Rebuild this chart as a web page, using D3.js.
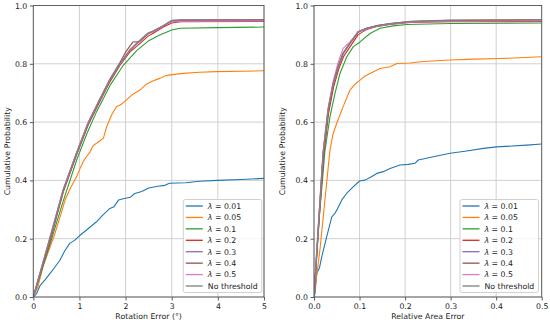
<!DOCTYPE html>
<html><head><meta charset="utf-8">
<script src="https://cdn.jsdelivr.net/npm/d3@7"></script>
<style>body{margin:0;background:#fff;} svg{display:block;} text{font-family:"DejaVu Sans",sans-serif;}</style>
</head><body><svg id="c" width="550" height="324"></svg>
<script>
// ---------- data ----------
const seriesLabels = ["0.01","0.05","0.1","0.2","0.3","0.4","0.5","No threshold"];
const seriesColors = ["#1f77b4","#ff7f0e","#2ca02c","#d62728","#9467bd","#8c564b","#e377c2","#7f7f7f"];
const rotTicks = [0,1,2,3,4,5];
const areaTicks = [0,0.1,0.2,0.3,0.4,0.5];
const probTicks = [0,0.2,0.4,0.6,0.8,1.0];

// Rotation error CDFs (degrees, probability)
const rot001 = [[0,0],[0.07,0.011],[0.15,0.04],[0.25,0.058],[0.36,0.08],[0.47,0.103],[0.58,0.127],[0.68,0.158],[0.79,0.184],[0.9,0.195],[1.0,0.21],[1.2,0.236],[1.37,0.258],[1.5,0.28],[1.66,0.304],[1.75,0.31],[1.85,0.333],[1.95,0.337],[2.1,0.342],[2.2,0.355],[2.35,0.362],[2.5,0.374],[2.7,0.38],[2.85,0.383],[2.95,0.39],[3.3,0.392],[3.6,0.397],[4,0.40],[4.5,0.403],[5,0.407]];
const rot005 = [[0,0],[0.1,0.035],[0.22,0.11],[0.36,0.17],[0.47,0.218],[0.58,0.275],[0.69,0.333],[0.8,0.372],[0.94,0.413],[1.01,0.44],[1.1,0.47],[1.23,0.498],[1.3,0.52],[1.44,0.535],[1.52,0.545],[1.59,0.584],[1.7,0.625],[1.8,0.653],[1.9,0.66],[2.02,0.676],[2.15,0.695],[2.31,0.71],[2.45,0.73],[2.6,0.742],[2.74,0.75],[2.85,0.758],[2.96,0.762],[3.25,0.767],[3.6,0.771],[3.97,0.773],[5,0.776]];
const rot01 = [[0,0],[0.36,0.18],[0.65,0.33],[0.94,0.47],[1.16,0.56],[1.37,0.635],[1.66,0.725],[1.95,0.795],[2.24,0.845],[2.49,0.878],[2.74,0.899],[3.0,0.916],[3.18,0.922],[4,0.924],[5,0.926]];
const rot02 = [[0,0],[0.36,0.19],[0.65,0.36],[0.94,0.488],[1.19,0.59],[1.44,0.67],[1.66,0.738],[1.88,0.795],[2.09,0.84],[2.24,0.86],[2.49,0.895],[2.6,0.905],[2.81,0.925],[3.0,0.94],[3.2,0.944],[5,0.945]];
const rot03 = [[0,0],[0.36,0.195],[0.65,0.365],[0.94,0.492],[1.19,0.595],[1.44,0.675],[1.66,0.743],[1.88,0.8],[2.09,0.846],[2.24,0.868],[2.49,0.903],[2.6,0.911],[2.81,0.929],[3.0,0.947],[3.2,0.949],[5,0.95]];
const rot04 = [[0,0],[0.36,0.2],[0.65,0.368],[0.94,0.495],[1.19,0.598],[1.44,0.678],[1.66,0.748],[1.88,0.805],[2.0,0.84],[2.16,0.875],[2.3,0.876],[2.49,0.904],[2.6,0.912],[2.81,0.93],[3.0,0.948],[3.2,0.95],[5,0.951]];
const rot05 = [[0,0],[0.36,0.205],[0.65,0.37],[0.94,0.497],[1.19,0.6],[1.44,0.678],[1.66,0.745],[1.88,0.8],[2.09,0.845],[2.24,0.87],[2.49,0.906],[2.6,0.913],[2.81,0.93],[3.0,0.944],[3.2,0.946],[5,0.947]];
const rotNone = [[0,0],[0.36,0.2],[0.65,0.367],[0.94,0.493],[1.19,0.596],[1.44,0.676],[1.66,0.744],[1.88,0.801],[2.09,0.847],[2.24,0.87],[2.49,0.905],[2.6,0.912],[2.81,0.93],[3.0,0.948],[3.2,0.95],[5,0.951]];

// Relative area error CDFs
const area001 = [[0,0],[0.002,0.01],[0.006,0.081],[0.012,0.1],[0.017,0.138],[0.028,0.207],[0.039,0.275],[0.045,0.285],[0.05,0.298],[0.061,0.333],[0.072,0.356],[0.086,0.378],[0.1,0.398],[0.112,0.401],[0.125,0.412],[0.138,0.424],[0.152,0.43],[0.167,0.441],[0.189,0.453],[0.207,0.455],[0.222,0.459],[0.229,0.47],[0.262,0.481],[0.299,0.493],[0.335,0.501],[0.372,0.51],[0.401,0.515],[0.467,0.521],[0.5,0.525]];
const area005 = [[0,0],[0.013,0.161],[0.024,0.333],[0.035,0.504],[0.042,0.561],[0.05,0.596],[0.064,0.653],[0.079,0.71],[0.09,0.73],[0.101,0.744],[0.112,0.758],[0.123,0.767],[0.145,0.784],[0.167,0.79],[0.182,0.801],[0.211,0.803],[0.24,0.808],[0.299,0.813],[0.354,0.816],[0.408,0.818],[0.5,0.824]];
const area01 = [[0,0],[0.012,0.28],[0.024,0.5],[0.035,0.618],[0.046,0.698],[0.057,0.767],[0.072,0.824],[0.086,0.858],[0.101,0.875],[0.123,0.904],[0.145,0.922],[0.174,0.93],[0.204,0.935],[0.3,0.938],[0.5,0.94]];
const area02 = [[0,0],[0.01,0.24],[0.021,0.48],[0.032,0.63],[0.043,0.72],[0.054,0.78],[0.065,0.825],[0.079,0.858],[0.097,0.9],[0.116,0.918],[0.138,0.928],[0.167,0.935],[0.211,0.942],[0.3,0.944],[0.5,0.945]];
const area03 = [[0,0],[0.01,0.25],[0.02,0.49],[0.031,0.64],[0.042,0.73],[0.053,0.792],[0.064,0.838],[0.079,0.872],[0.097,0.91],[0.116,0.922],[0.138,0.931],[0.167,0.938],[0.211,0.945],[0.3,0.948],[0.5,0.95]];
const area04 = [[0,0],[0.01,0.25],[0.02,0.49],[0.031,0.64],[0.042,0.732],[0.053,0.79],[0.064,0.836],[0.079,0.87],[0.097,0.908],[0.116,0.922],[0.138,0.93],[0.167,0.937],[0.211,0.945],[0.3,0.949],[0.5,0.951]];
const area05 = [[0,0],[0.01,0.255],[0.02,0.5],[0.031,0.65],[0.042,0.74],[0.053,0.805],[0.064,0.853],[0.079,0.875],[0.097,0.91],[0.116,0.92],[0.138,0.928],[0.167,0.936],[0.211,0.943],[0.3,0.946],[0.5,0.947]];
const areaNone = [[0,0],[0.01,0.25],[0.02,0.49],[0.031,0.64],[0.042,0.73],[0.053,0.79],[0.064,0.834],[0.079,0.87],[0.097,0.91],[0.116,0.922],[0.138,0.93],[0.167,0.937],[0.211,0.945],[0.3,0.949],[0.5,0.951]];

const rotSeries = [rot001,rot005,rot01,rot02,rot03,rot04,rot05,rotNone];
const areaSeries = [area001,area005,area01,area02,area03,area04,area05,areaNone];

// ---------- drawing ----------
const svg = d3.select("#c");
const FS = 7.8;
const plotTop = 5.5, plotBottom = 297;

function panel(id, x0, x1, xDomain, xTicks, xFmt, xLabel, series, legendX, yLabelX) {
  const g = svg.append("g");
  const x = d3.scaleLinear().domain(xDomain).range([x0, x1]);
  const y = d3.scaleLinear().domain([0,1]).range([plotBottom, plotTop]);
  g.append("g").selectAll("line").data(xTicks).join("line")
    .attr("x1", d=>x(d)).attr("x2", d=>x(d)).attr("y1", plotTop).attr("y2", plotBottom)
    .attr("stroke","#cccccc").attr("stroke-width",0.9);
  g.append("g").selectAll("line").data(probTicks).join("line")
    .attr("x1", x0).attr("x2", x1).attr("y1", d=>y(d)).attr("y2", d=>y(d))
    .attr("stroke","#cccccc").attr("stroke-width",0.9);
  svg.append("clipPath").attr("id","clip"+id).append("rect")
    .attr("x",x0).attr("y",plotTop).attr("width",x1-x0).attr("height",plotBottom-plotTop);
  const line = d3.line().x(d=>x(d[0])).y(d=>y(d[1]));
  const last = series.length - 1;
  g.append("g").attr("clip-path","url(#clip"+id+")").selectAll("path").data(series).join("path")
    .attr("d", d=>line(d)).attr("fill","none")
    .attr("stroke",(d,i)=>seriesColors[i])
    .attr("stroke-width",(d,i)=> i===last ? 1.6 : 1.1)
    .attr("stroke-opacity",(d,i)=> i===last ? 0.85 : 1)
    .attr("stroke-linejoin","round");
  const ax = g.append("g").attr("transform",`translate(0,${plotBottom})`)
    .call(d3.axisBottom(x).tickValues(xTicks).tickFormat(xFmt).tickSize(3.5).tickPadding(2.5));
  const ay = g.append("g").attr("transform",`translate(${x0},0)`)
    .call(d3.axisLeft(y).tickValues(probTicks).tickFormat(d3.format(".1f")).tickSize(3.5).tickPadding(2.5));
  [ax,ay].forEach(a=>{
    a.select(".domain").remove();
    a.selectAll(".tick line").attr("stroke","#333").attr("stroke-width",0.8);
    a.selectAll(".tick text").attr("fill","#222").style("font-size",FS+"px").style("font-family","DejaVu Sans");
  });
  g.append("rect").attr("x",x0).attr("y",plotTop).attr("width",x1-x0).attr("height",plotBottom-plotTop)
    .attr("fill","none").attr("stroke","#555").attr("stroke-width",0.9);
  g.append("text").attr("x",(x0+x1)/2).attr("y",318.5).attr("text-anchor","middle")
    .attr("fill","#222").style("font-size",FS+"px").text(xLabel);
  g.append("text").attr("transform",`translate(${yLabelX},${(plotTop+plotBottom)/2}) rotate(-90)`)
    .attr("text-anchor","middle").attr("fill","#222").style("font-size",FS+"px").text("Cumulative Probability");
  const lw = 78.5, lh = 93, ly = 199.5;
  const lg = g.append("g");
  lg.append("rect").attr("x",legendX).attr("y",ly).attr("width",lw).attr("height",lh)
    .attr("rx",2).attr("fill","#fff").attr("fill-opacity",0.8).attr("stroke","#cccccc").attr("stroke-width",0.9);
  seriesLabels.forEach((lab,i)=>{
    const yy = 206 + i*11.43;
    lg.append("line").attr("x1",legendX+2.5).attr("x2",legendX+19.5).attr("y1",yy).attr("y2",yy)
      .attr("stroke",seriesColors[i]).attr("stroke-width",1.3);
    const t = lg.append("text").attr("x",legendX+24.5).attr("y",yy+2.8).attr("fill","#222").style("font-size",FS+"px");
    if (lab === "No threshold") t.text(lab);
    else { t.append("tspan").style("font-style","italic").text("λ"); t.append("tspan").text(" = "+lab); }
  });
}

panel("L", 33.3, 264, [0,5], rotTicks, d3.format("d"), "Rotation Error (°)", rotSeries, 183.3, 10);
panel("R", 314, 541.7, [0,0.5], areaTicks, d3.format(".1f"), "Relative Area Error", areaSeries, 460, 284.5);
</script></body></html>
